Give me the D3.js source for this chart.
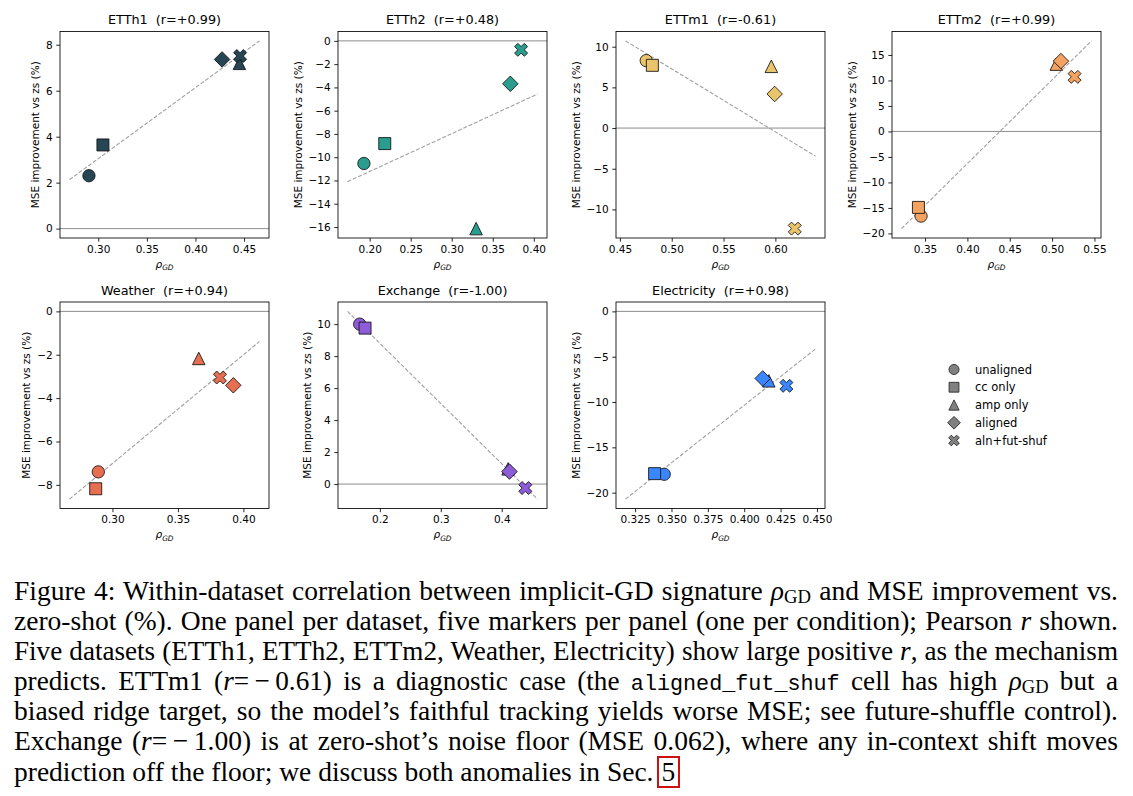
<!DOCTYPE html>
<html>
<head>
<meta charset="utf-8">
<script src="https://cdn.jsdelivr.net/npm/d3@7"></script>
<style>
  body { margin: 0; background: #fff; width: 1133px; height: 796px; overflow: hidden; position: relative; }
  svg { position: absolute; left: 0; top: 0; }
  #cap { position: absolute; left: 14px; top: 576px; width: 1104px;
         font-family: "Liberation Serif", "Times New Roman", serif; font-size: 27.5px; color: #000; }
  #cap div { height: 30px; line-height: 30px; text-align: justify; text-align-last: justify; }
  #cap div.last { text-align-last: left; }
  #cap sub { font-size: 68%; vertical-align: baseline; position: relative; top: 0.16em; line-height: 0; }
  #cap code { font-family: "Liberation Mono", monospace; font-size: 0.8em; }
  #cap .box { border: 2px solid #cc1111; padding: 0 3px; line-height: 28px; display: inline-block; margin-left: 3px; }
  #measure { position: absolute; visibility: hidden; white-space: nowrap; font-family: "Liberation Serif", "Times New Roman", serif; }
</style>
</head>
<body>
<div id="cap">
  <div>Figure 4: Within-dataset correlation between implicit-GD signature <i>ρ</i><sub>GD</sub> and MSE improvement vs.</div>
  <div>zero-shot (%). One panel per dataset, five markers per panel (one per condition); Pearson <i>r</i> shown.</div>
  <div>Five datasets (ETTh1, ETTh2, ETTm2, Weather, Electricity) show large positive <i>r</i>, as the mechanism</div>
  <div>predicts. ETTm1 (<i>r</i>=&#8201;−&#8201;0.61) is a diagnostic case (the <code>aligned_fut_shuf</code> cell has high <i>ρ</i><sub>GD</sub> but a</div>
  <div>biased ridge target, so the model’s faithful tracking yields worse MSE; see future-shuffle control).</div>
  <div>Exchange (<i>r</i>=&#8201;−&#8201;1.00) is at zero-shot’s noise floor (MSE 0.062), where any in-context shift moves</div>
  <div class="last">prediction off the floor; we discuss both anomalies in Sec.<span class="box">5</span></div>
</div>
<script>
// panels, one per dataset
var datasets = ["ETTh1", "ETTh2", "ETTm1", "ETTm2", "Weather", "Exchange", "Electricity"];
var rValues  = ["+0.99", "+0.48", "-0.61", "+0.99", "+0.94", "-1.00", "+0.98"];
var conditions = ["unaligned", "cc only", "amp only", "aligned", "aln+fut-shuf"];
var palette = ["#264653", "#2a9d8f", "#e9c46a", "#f4a261", "#e76f51", "#8e5cd9", "#3a86ff"];

// rho_GD per dataset, in condition order
var rhoGD = [
  [0.2904, 0.3048, 0.4452, 0.4274, 0.4459],
  [0.1930, 0.2184, 0.3297, 0.3714, 0.3845],
  [0.4754, 0.4813, 0.5961, 0.5993, 0.6187],
  [0.3453, 0.3422, 0.5049, 0.5104, 0.5265],
  [0.2892, 0.2872, 0.3659, 0.3923, 0.3821],
  [0.1669, 0.1757, 0.4105, 0.4127, 0.4387],
  [0.3450, 0.3384, 0.4169, 0.4127, 0.4290]
];
// MSE improvement vs zero-shot (%)
var mseImprovement = [
  [2.30, 3.64, 7.19, 7.36, 7.51],
  [-10.54, -8.83, -16.14, -3.69, -0.77],
  [8.29, 7.71, 7.59, 4.19, -12.36],
  [-16.6, -14.9, 13.2, 13.8, 10.7],
  [-7.40, -8.18, -2.17, -3.41, -3.05],
  [10.0, 9.75, 0.95, 0.78, -0.25],
  [-17.97, -17.9, -7.66, -7.40, -8.21]
];

var xTickLabels = [
  ["0.30", "0.35", "0.40", "0.45"],
  ["0.20", "0.25", "0.30", "0.35", "0.40"],
  ["0.45", "0.50", "0.55", "0.60"],
  ["0.35", "0.40", "0.45", "0.50", "0.55"],
  ["0.30", "0.35", "0.40"],
  ["0.2", "0.3", "0.4"],
  ["0.325", "0.350", "0.375", "0.400", "0.425", "0.450"]
];
var yTickLabels = [
  ["0", "2", "4", "6", "8"],
  ["−16", "−14", "−12", "−10", "−8", "−6", "−4", "−2", "0"],
  ["−10", "−5", "0", "5", "10"],
  ["−20", "−15", "−10", "−5", "0", "5", "10", "15"],
  ["−8", "−6", "−4", "−2", "0"],
  ["0", "2", "4", "6", "8", "10"],
  ["−20", "−15", "−10", "−5", "0"]
];

function num(s) { return +s.replace("−", "-"); }

// marker shapes, size = bounding box edge squared
function edge(size) { return Math.sqrt(size); }
var circleSym = { draw: function (ctx, size) { var r = edge(size) / 2; ctx.moveTo(r, 0); ctx.arc(0, 0, r, 0, 2 * Math.PI); } };
var squareSym = { draw: function (ctx, size) { var s = edge(size); ctx.rect(-s / 2, -s / 2, s, s); } };
var triSym = { draw: function (ctx, size) { var r = edge(size) / 2; ctx.moveTo(0, -r); ctx.lineTo(r, r); ctx.lineTo(-r, r); ctx.closePath(); } };
var diamondSym = { draw: function (ctx, size) { var r = edge(size) / 2; ctx.moveTo(0, -r); ctx.lineTo(r, 0); ctx.lineTo(0, r); ctx.lineTo(-r, 0); ctx.closePath(); } };
var xPts = [[0.25, 0], [0.5, 0.25], [0.75, 0], [1, 0.25], [0.75, 0.5], [1, 0.75], [0.75, 1], [0.5, 0.75], [0.25, 1], [0, 0.75], [0.25, 0.5], [0, 0.25]];
var xSym = { draw: function (ctx, size) {
  var s = edge(size);
  xPts.forEach(function (p, k) { var px = (p[0] - 0.5) * s, py = (p[1] - 0.5) * s; if (k) ctx.lineTo(px, py); else ctx.moveTo(px, py); });
  ctx.closePath();
} };
var symbols = [circleSym, squareSym, triSym, diamondSym, xSym];
var markerEdge = [12.3, 12, 12.5, 15.5, 13];

var W = 1133, H = 796;
var colLeft = [60, 338, 616, 892], rowTop = [31.5, 302];
var pw = 209, ph = 206.5;
var font = "'DejaVu Sans', sans-serif";

var svg = d3.select("body").append("svg").attr("width", W).attr("height", H);

function leastSquares(xs, ys) {
  var mx = d3.mean(xs), my = d3.mean(ys), sxy = 0, sxx = 0;
  xs.forEach(function (x, i) { sxy += (x - mx) * (ys[i] - my); sxx += (x - mx) * (x - mx); });
  var b = sxy / sxx;
  return function (x) { return my + b * (x - mx); };
}
function padded(vals) {
  var e = d3.extent(vals), m = (e[1] - e[0]) * 0.05;
  return [e[0] - m, e[1] + m];
}

datasets.forEach(function (name, i) {
  var xs = rhoGD[i], ys = mseImprovement[i];
  var f = leastSquares(xs, ys);
  var xr = [d3.min(xs) - 0.02, d3.max(xs) + 0.02];

  var x = d3.scaleLinear().domain(padded(xs.concat(xr))).range([0, pw]);
  var y = d3.scaleLinear().domain(padded(ys.concat([f(xr[0]), f(xr[1]), 0]))).range([ph, 0]);

  var g = svg.append("g")
    .attr("transform", "translate(" + colLeft[i % 4] + "," + rowTop[Math.floor(i / 4)] + ")");

  // zero line
  g.append("line")
    .attr("x1", 0).attr("x2", pw).attr("y1", y(0)).attr("y2", y(0))
    .attr("stroke", "#808080").attr("stroke-width", 0.9);

  // fit line
  g.append("line")
    .attr("x1", x(xr[0])).attr("y1", y(f(xr[0])))
    .attr("x2", x(xr[1])).attr("y2", y(f(xr[1])))
    .attr("stroke", "#a0a0a0").attr("stroke-width", 1.1).attr("stroke-dasharray", "4,1.8");

  g.selectAll("path.pt")
    .data(xs)
    .enter()
    .append("path")
    .attr("class", "pt")
    .attr("transform", function (d, j) { return "translate(" + x(d) + "," + y(ys[j]) + ")"; })
    .attr("d", function (d, j) { return d3.symbol().type(symbols[j]).size(markerEdge[j] * markerEdge[j])(); })
    .attr("fill", palette[i])
    .attr("stroke", "#111")
    .attr("stroke-width", 0.85);

  var xl = xTickLabels[i], yl = yTickLabels[i];
  var xAxis = d3.axisBottom(x).tickValues(xl.map(num)).tickFormat(function (d, j) { return xl[j]; })
    .tickSize(3.7).tickPadding(3.7).tickSizeOuter(0);
  var yAxis = d3.axisLeft(y).tickValues(yl.map(num)).tickFormat(function (d, j) { return yl[j]; })
    .tickSize(3.7).tickPadding(3.7).tickSizeOuter(0);

  var gx = g.append("g").attr("transform", "translate(0," + ph + ")").call(xAxis);
  var gy = g.append("g").call(yAxis);
  [gx, gy].forEach(function (a) {
    a.select(".domain").remove();
    a.attr("font-family", font).attr("font-size", 10.5);
    a.selectAll("line").attr("stroke", "#000").attr("stroke-width", 0.85);
    a.selectAll("text").attr("fill", "#000");
  });

  // frame
  g.append("rect").attr("width", pw).attr("height", ph)
    .attr("fill", "none").attr("stroke", "#000").attr("stroke-width", 0.85);

  g.append("text")
    .attr("x", pw / 2).attr("y", -7.5)
    .attr("text-anchor", "middle")
    .attr("font-family", font).attr("font-size", 12.8)
    .style("white-space", "pre")
    .text(name + "  (r=" + rValues[i] + ")");

  var tw = d3.max(gy.selectAll("text").nodes(), function (n) { return n.getComputedTextLength(); });
  g.append("text")
    .attr("transform", "translate(" + (-(7.4 + tw + 4.2)) + "," + (ph / 2) + ") rotate(-90)")
    .attr("dy", "-0.24em")
    .attr("text-anchor", "middle")
    .attr("font-family", font).attr("font-size", 10.5)
    .text("MSE improvement vs zs (%)");

  var lab = g.append("text")
    .attr("x", pw / 2).attr("y", ph + 29.5)
    .attr("text-anchor", "middle")
    .attr("font-family", font).attr("font-size", 10.5).attr("font-style", "italic");
  lab.append("tspan").text("ρ");
  lab.append("tspan").attr("dy", 2.5).attr("font-size", 7.4).text("GD");
});

// legend
var leg = svg.append("g").attr("transform", "translate(954,369.5)");
var legRow = leg.selectAll("g").data(conditions).enter().append("g")
  .attr("transform", function (d, j) { return "translate(0," + (j * 17.75) + ")"; });
legRow.append("path")
  .attr("d", function (d, j) { var s = markerEdge[j] * 0.82; return d3.symbol().type(symbols[j]).size(s * s)(); })
  .attr("fill", "#808080").attr("stroke", "#222").attr("stroke-width", 0.85);
legRow.append("text")
  .attr("x", 21).attr("dy", "0.35em")
  .attr("font-family", font).attr("font-size", 11.5)
  .text(function (d) { return d; });

// keep every caption line on one line: shrink a line only if its natural width is too wide
var meas = d3.select("body").append("span").attr("id", "measure");
d3.selectAll("#cap div").each(function () {
  var div = d3.select(this);
  var fs = parseFloat(getComputedStyle(this).fontSize);
  meas.style("font-size", fs + "px").html(this.innerHTML);
  var w = meas.node().getBoundingClientRect().width;
  if (w > 1100) div.style("font-size", (fs * 1100 / w) + "px");
});
meas.remove();
</script>
</body>
</html>
